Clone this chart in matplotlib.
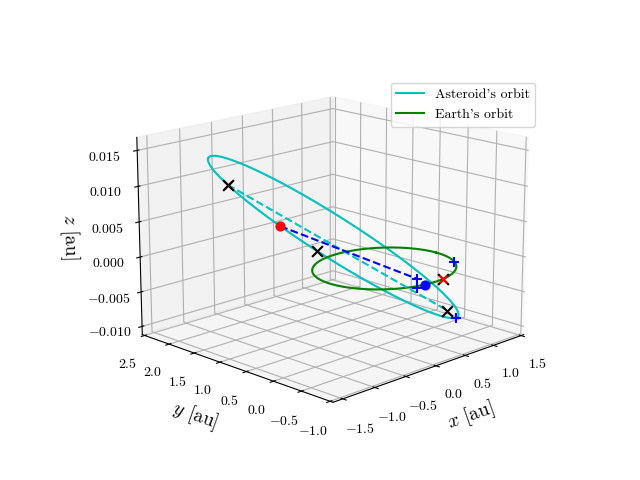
import numpy as np
import matplotlib
matplotlib.use("Agg")
import matplotlib.pyplot as plt

plt.rcParams["font.family"] = "serif"
plt.rcParams["font.serif"] = ["cmr10"]
plt.rcParams["mathtext.fontset"] = "cm"
plt.rcParams["axes.formatter.use_mathtext"] = True
plt.rcParams["axes.unicode_minus"] = True

# asteroid orbit: centre and semi-axis vectors [au]
ast_center = [-0.205, 0.54, 0.0036]
ast_major = [-1.045, 1.13, 0.0111]
ast_minor = [0.46, 0.43, 0.0010]
# Earth orbit: centre and radius [au]
earth_center = [0.065, -0.065]
earth_r = 0.88

# marker positions: orbit parameter on asteroid orbit [rad]
t_apsis = -0.62
t_asteroid_now = -1.17
t_cross = [-0.62, -1.47]
t_plus = [-2.94]
# marker positions: angle on Earth orbit [deg], height [au]
th_earth_now = -100.0
th_cross = [-80.0]
th_plus = [-31.0, -107.0, -107.0]
z_plus = [0.0, 0.0010, -0.0002]
apsis_end = [0.18, -1.05, -0.0040]

c, U, V = map(np.array, (ast_center, ast_major, ast_minor))
def ast(tt):
    tt = np.asarray(tt, float)
    return c[:, None] + U[:, None] * np.cos(tt) + V[:, None] * np.sin(tt)
def earth(th, z=0.0):
    th = np.radians(np.asarray(th, float))
    return np.array([earth_center[0] + earth_r * np.cos(th),
                     earth_center[1] + earth_r * np.sin(th),
                     np.zeros_like(th) + z])

t = np.linspace(0, 2 * np.pi, 400)
orb = ast(t)
eo = earth(np.degrees(t))
aph = ast([t_apsis])[:, 0]
now = ast([t_asteroid_now])[:, 0]
enow = earth([th_earth_now])[:, 0]
crossA = ast(t_cross)
crossE = earth(th_cross)
plusA = ast(t_plus)
plusE = earth(th_plus, np.array(z_plus))
los_end = plusE[:, 1]

fig = plt.figure(figsize=(6.4, 4.8), dpi=100)
ax = fig.add_subplot(projection="3d")
ax.plot(orb[0], orb[1], orb[2], color="c", label="Asteroid's orbit")
ax.plot(eo[0], eo[1], eo[2], color="g", label="Earth's orbit")
ax.plot(*zip(aph, apsis_end), "c--")
ax.plot(*zip(now, los_end), "b--")
ax.scatter(*now, color="r", s=40, depthshade=False)
ax.scatter(*enow, color="b", s=40, depthshade=False)
ax.scatter(*crossA, color="k", marker="x", s=60, depthshade=False)
ax.scatter(*crossE, color="k", marker="x", s=60, depthshade=False)
ax.scatter(*apsis_end, color="k", marker="x", s=60, depthshade=False)
ax.scatter(*aph, color="r", marker="x", s=30, depthshade=False)
ax.scatter(*crossE, color="r", marker="x", s=30, depthshade=False)
ax.scatter(*plusE, color="b", marker="+", s=60, depthshade=False)
ax.scatter(*plusA, color="b", marker="+", s=60, depthshade=False)
ax.set_xlim(-1.65, 1.55)
ax.set_ylim(-1.05, 2.55)
ax.set_xticks([-1.5, -1.0, -0.5, 0.0, 0.5, 1.0, 1.5])
ax.set_yticks([-1.0, -0.5, 0.0, 0.5, 1.0, 1.5, 2.0, 2.5])
ax.set_zlim(-0.0112, 0.0168)
ax.set_zticks([-0.010, -0.005, 0.0, 0.005, 0.010, 0.015])
ax.set_xlabel(r"$x$ [au]", fontsize=14)
ax.set_ylabel(r"$y$ [au]", fontsize=14)
ax.set_zlabel(r"$z$ [au]", fontsize=14)
ax.view_init(elev=16, azim=-135)
ax.set_box_aspect(None, zoom=1.15)
ax.legend(loc="upper right", bbox_to_anchor=(1.08, 0.95))
fig.savefig("out.png")
